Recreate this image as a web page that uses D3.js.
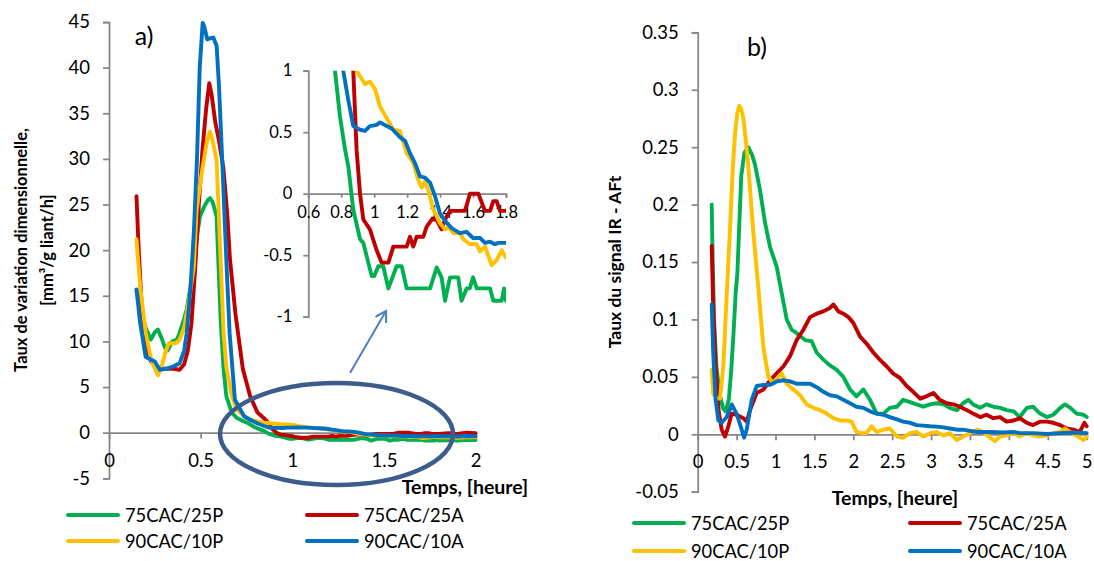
<!DOCTYPE html>
<html><head><meta charset="utf-8">
<script src="https://cdn.jsdelivr.net/npm/d3@7"></script>
<style>
html,body{margin:0;padding:0;background:#fff;}
svg{display:block;font-family:Lato,"Open Sans",sans-serif;}
</style></head>
<body>
<svg id="c" width="1094" height="561"></svg>
<script>
// ---------- DATA ----------
const seriesNames = ["75CAC/25P", "75CAC/25A", "90CAC/10P", "90CAC/10A"];
const seriesColors = ["#00B050", "#C00000", "#FFC000", "#0070C0"];

// Chart a) : time [h], rate [mm3/g liant/h]
const aGreen = [[0.15,15.5],[0.18,13],[0.2,11.5],[0.228,10.2],[0.25,11],[0.267,11.3],[0.29,10.2],[0.306,9.3],[0.32,9],[0.345,10],[0.37,10.2],[0.385,10.9],[0.41,12.5],[0.424,13.5],[0.445,16],[0.463,18.2],[0.48,21.5],[0.496,23.7],[0.52,24.8],[0.54,25.5],[0.551,25.7],[0.565,25.3],[0.587,23.7],[0.596,19],[0.61,12],[0.625,7],[0.64,4],[0.67,2.2],[0.698,1.6],[0.74,1.2],[0.762,1.0],[0.792,0.63],[0.823,0.36],[0.843,0.22],[0.873,-0.13],[0.914,-0.37],[0.934,-0.4],[0.985,-0.67],[1.0,-0.67],[1.025,-0.59],[1.055,-0.59],[1.086,-0.77],[1.136,-0.59],[1.167,-0.59],[1.197,-0.77],[1.339,-0.77],[1.379,-0.6],[1.409,-0.68],[1.43,-0.87],[1.46,-0.68],[1.51,-0.68],[1.53,-0.87],[1.561,-0.77],[1.58,-0.77],[1.6,-0.68],[1.622,-0.77],[1.703,-0.77],[1.723,-0.87],[1.774,-0.87],[1.788,-0.77],[1.8,-0.87],[1.85,-0.8],[1.9,-0.87],[1.95,-0.77],[2.0,-0.8]];
const aRed = [[0.15,25.9],[0.16,21],[0.175,15],[0.2,9.5],[0.23,7.8],[0.26,7.2],[0.3,7],[0.35,7],[0.385,6.9],[0.41,7.5],[0.43,9],[0.45,12],[0.47,18],[0.49,25],[0.51,31],[0.53,35.5],[0.547,38.3],[0.56,37],[0.58,34],[0.6,32],[0.624,29],[0.645,24],[0.66,19],[0.69,13],[0.73,7],[0.77,4],[0.81,2.2],[0.85,1.5],[0.873,1.0],[0.893,0.36],[0.914,0],[0.934,-0.21],[0.974,-0.29],[1.015,-0.46],[1.045,-0.56],[1.086,-0.56],[1.116,-0.43],[1.197,-0.43],[1.217,-0.35],[1.237,-0.43],[1.258,-0.35],[1.298,-0.35],[1.318,-0.27],[1.349,-0.21],[1.379,-0.21],[1.409,-0.29],[1.43,-0.21],[1.46,-0.14],[1.551,-0.14],[1.581,0],[1.632,0],[1.672,-0.14],[1.703,-0.14],[1.723,-0.06],[1.743,-0.06],[1.763,-0.14],[1.8,-0.14],[1.85,-0.06],[1.9,-0.14],[1.95,0],[2.0,-0.06]];
const aYellow = [[0.15,21.2],[0.17,16],[0.2,11],[0.23,8],[0.267,6.3],[0.29,7.5],[0.306,8.7],[0.326,9.8],[0.365,9.8],[0.385,10.2],[0.41,11.5],[0.44,15],[0.463,18.2],[0.478,24.4],[0.51,29],[0.535,32],[0.551,33],[0.565,32],[0.587,29.9],[0.609,19],[0.625,11],[0.64,7.2],[0.67,4],[0.698,2.5],[0.75,1.6],[0.8,1.25],[0.85,1.08],[0.893,1.0],[0.944,0.89],[0.974,0.91],[1.005,0.85],[1.035,0.71],[1.116,0.52],[1.156,0.51],[1.197,0.33],[1.237,0.25],[1.268,0.11],[1.288,0.05],[1.308,0.1],[1.328,0.03],[1.359,-0.13],[1.399,-0.24],[1.43,-0.29],[1.45,-0.27],[1.48,-0.32],[1.52,-0.32],[1.541,-0.37],[1.581,-0.41],[1.622,-0.41],[1.642,-0.47],[1.672,-0.43],[1.713,-0.58],[1.743,-0.54],[1.774,-0.46],[1.8,-0.52],[1.85,-0.5],[1.9,-0.55],[1.95,-0.5],[2.0,-0.52]];
const aBlue = [[0.15,15.7],[0.17,12],[0.2,8.3],[0.23,8],[0.25,7.8],[0.277,6.9],[0.31,7],[0.345,7.2],[0.385,7.6],[0.41,9],[0.424,10.9],[0.445,16],[0.463,22],[0.48,30],[0.495,40],[0.511,44.9],[0.52,44.5],[0.536,43.1],[0.55,43.2],[0.569,43.3],[0.587,42.4],[0.6,38],[0.619,29.2],[0.64,19],[0.658,10.9],[0.687,3.6],[0.737,1.8],[0.78,1.3],[0.812,1.0],[0.843,0.76],[0.873,0.55],[0.914,0.52],[0.944,0.51],[0.974,0.55],[1.015,0.56],[1.035,0.58],[1.076,0.55],[1.106,0.53],[1.156,0.46],[1.187,0.43],[1.217,0.33],[1.247,0.25],[1.278,0.14],[1.308,0.13],[1.339,0.09],[1.369,-0.02],[1.399,-0.16],[1.43,-0.22],[1.47,-0.28],[1.52,-0.32],[1.561,-0.31],[1.6,-0.36],[1.642,-0.36],[1.672,-0.4],[1.703,-0.39],[1.733,-0.41],[1.753,-0.4],[1.8,-0.4],[1.85,-0.38],[1.9,-0.42],[1.95,-0.36],[2.0,-0.4]];

// Chart b) : time [h], IR signal rate
const bGreen = [[0.18,0.2],[0.19,0.16],[0.21,0.1],[0.24,0.06],[0.28,0.035],[0.33,0.022],[0.36,0.02],[0.4,0.03],[0.43,0.055],[0.458,0.085],[0.49,0.125],[0.51,0.14],[0.53,0.175],[0.56,0.225],[0.6,0.245],[0.65,0.25],[0.7,0.243],[0.736,0.235],[0.8,0.213],[0.866,0.184],[0.93,0.163],[1.015,0.146],[1.08,0.123],[1.144,0.1],[1.208,0.091],[1.272,0.088],[1.38,0.082],[1.465,0.081],[1.53,0.071],[1.615,0.065],[1.7,0.06],[1.787,0.056],[1.872,0.05],[1.958,0.039],[2.04,0.033],[2.13,0.039],[2.215,0.03],[2.3,0.018],[2.386,0.018],[2.47,0.023],[2.56,0.024],[2.64,0.03],[2.73,0.028],[2.815,0.026],[2.9,0.024],[2.986,0.026],[3.07,0.027],[3.16,0.026],[3.24,0.023],[3.33,0.021],[3.41,0.027],[3.48,0.03],[3.54,0.026],[3.63,0.023],[3.71,0.026],[3.8,0.024],[3.886,0.023],[3.97,0.021],[4.06,0.02],[4.14,0.015],[4.23,0.023],[4.31,0.024],[4.4,0.018],[4.49,0.015],[4.57,0.017],[4.66,0.023],[4.72,0.026],[4.79,0.023],[4.87,0.018],[4.96,0.017],[5.0,0.015]];
const bRed = [[0.18,0.164],[0.2,0.11],[0.23,0.06],[0.27,0.02],[0.308,0.004],[0.351,-0.002],[0.394,0.007],[0.437,0.018],[0.5,0.017],[0.587,0.014],[0.63,0.011],[0.673,0.021],[0.758,0.036],[0.844,0.039],[0.93,0.047],[1.015,0.053],[1.101,0.059],[1.187,0.068],[1.272,0.082],[1.358,0.091],[1.444,0.102],[1.53,0.105],[1.615,0.107],[1.7,0.11],[1.744,0.113],[1.808,0.107],[1.872,0.105],[1.937,0.102],[2.0,0.097],[2.087,0.085],[2.17,0.079],[2.26,0.071],[2.34,0.065],[2.43,0.059],[2.51,0.053],[2.6,0.049],[2.686,0.042],[2.77,0.037],[2.86,0.031],[2.94,0.033],[3.03,0.036],[3.11,0.03],[3.2,0.027],[3.29,0.026],[3.37,0.024],[3.46,0.021],[3.54,0.018],[3.63,0.015],[3.71,0.017],[3.8,0.014],[3.886,0.015],[3.97,0.011],[4.06,0.012],[4.14,0.014],[4.23,0.01],[4.31,0.008],[4.4,0.011],[4.49,0.011],[4.57,0.01],[4.66,0.008],[4.74,0.005],[4.83,0.004],[4.91,0.002],[4.97,0.01],[5.0,0.007]];
const bYellow = [[0.18,0.056],[0.2,0.035],[0.25,0.031],[0.287,0.031],[0.33,0.06],[0.365,0.11],[0.394,0.15],[0.416,0.18],[0.45,0.23],[0.48,0.262],[0.51,0.28],[0.535,0.286],[0.56,0.283],[0.587,0.275],[0.62,0.255],[0.651,0.233],[0.716,0.175],[0.78,0.127],[0.844,0.076],[0.908,0.05],[0.973,0.044],[1.037,0.05],[1.08,0.053],[1.144,0.044],[1.23,0.039],[1.315,0.034],[1.4,0.026],[1.487,0.023],[1.572,0.021],[1.658,0.018],[1.744,0.014],[1.83,0.012],[1.915,0.012],[1.98,0.011],[2.04,0.002],[2.1,0.001],[2.17,0.001],[2.236,0.007],[2.3,0.002],[2.386,0.004],[2.47,0.005],[2.56,-0.002],[2.64,-0.003],[2.73,0.001],[2.815,0.002],[2.9,-0.002],[2.986,0.001],[3.07,0.002],[3.16,-0.001],[3.24,0.001],[3.33,-0.005],[3.41,-0.002],[3.5,0.001],[3.59,0.004],[3.67,0.002],[3.76,-0.003],[3.82,-0.006],[3.886,-0.002],[3.97,-0.001],[4.06,0.001],[4.14,-0.002],[4.23,0.001],[4.31,-0.001],[4.4,-0.002],[4.49,-0.001],[4.57,0.001],[4.66,0.002],[4.72,0.005],[4.81,0.001],[4.89,-0.002],[4.96,-0.005],[5.0,-0.002]];
const bBlue = [[0.18,0.113],[0.2,0.07],[0.23,0.03],[0.266,0.012],[0.308,0.01],[0.373,0.015],[0.437,0.026],[0.5,0.018],[0.566,0.004],[0.596,-0.003],[0.63,0.004],[0.694,0.03],[0.758,0.042],[0.844,0.043],[0.93,0.043],[1.015,0.046],[1.101,0.047],[1.187,0.046],[1.272,0.044],[1.358,0.044],[1.444,0.044],[1.53,0.041],[1.615,0.037],[1.7,0.034],[1.787,0.033],[1.872,0.03],[1.958,0.027],[2.04,0.024],[2.13,0.023],[2.215,0.02],[2.3,0.018],[2.386,0.017],[2.47,0.015],[2.56,0.013],[2.64,0.011],[2.73,0.01],[2.815,0.008],[2.9,0.0075],[2.986,0.007],[3.07,0.0067],[3.16,0.006],[3.24,0.005],[3.33,0.004],[3.41,0.004],[3.5,0.003],[3.59,0.002],[3.76,0.002],[3.93,0.0015],[4.06,0.002],[4.14,0.001],[4.31,0.001],[4.49,0.0003],[4.66,0.001],[4.83,0.0015],[5.0,0.001]];

const aTicksY = [-5,0,5,10,15,20,25,30,35,40,45];
const aTicksX = [0,0.5,1,1.5,2];
const insetTicksY = [-1,-0.5,0,0.5,1];
const insetTicksX = [0.6,0.8,1,1.2,1.4,1.6,1.8];
const bTicksY = [-0.05,0,0.05,0.1,0.15,0.2,0.25,0.3,0.35];
const bTicksX = [0,0.5,1,1.5,2,2.5,3,3.5,4,4.5,5];

const aSeries = [aGreen, aRed, aYellow, aBlue];
const bSeries = [bGreen, bRed, bYellow, bBlue];

// ---------- DRAW ----------
const svg = d3.select("#c");
const AXIS = "#868686";
const fmt = d => String(d);
const TICK_FS = 18.5;

function styleAxis(g, fs) {
  g.select(".domain").attr("stroke", AXIS).attr("stroke-width", 1.75);
  g.selectAll(".tick line").attr("stroke", AXIS).attr("stroke-width", 1.75);
  g.selectAll(".tick text").attr("fill", "#000").attr("font-size", fs).attr("font-family", "Lato");
}

function drawLines(g, data, x, y, w) {
  const line = d3.line().x(d => x(d[0])).y(d => y(d[1]));
  data.forEach((s, i) => {
    g.append("path").attr("d", line(s)).attr("fill", "none")
      .attr("stroke", seriesColors[i]).attr("stroke-width", w)
      .attr("stroke-linejoin", "round").attr("stroke-linecap", "round");
  });
}

// ---- Chart a ----
const xA = d3.scaleLinear().domain([0, 2]).range([109, 475.6]);
const yA = d3.scaleLinear().domain([-5, 45]).range([478.3, 22]);

const gAy = svg.append("g").attr("transform", `translate(${xA(0)},0)`)
  .call(d3.axisLeft(yA).tickValues(aTicksY).tickSize(6).tickPadding(13).tickFormat(fmt).tickSizeOuter(6));
styleAxis(gAy, TICK_FS);
const gAx = svg.append("g").attr("transform", `translate(0,${yA(0)})`)
  .call(d3.axisBottom(xA).tickValues(aTicksX).tickSize(6).tickPadding(15).tickFormat(fmt).tickSizeOuter(0));
styleAxis(gAx, TICK_FS);

drawLines(svg.append("g"), aSeries, xA, yA, 3.9);

// inset
const xI = d3.scaleLinear().domain([0.6, 1.8]).range([308.3, 506]);
const yI = d3.scaleLinear().domain([-1, 1]).range([316.7, 70.7]);
svg.append("defs").append("clipPath").attr("id", "clipI").append("rect")
  .attr("x", xI(0.6)).attr("y", yI(1)).attr("width", xI(1.8) - xI(0.6)).attr("height", yI(-1) - yI(1));
const gIy = svg.append("g").attr("transform", `translate(${xI(0.6)},0)`)
  .call(d3.axisLeft(yI).tickValues(insetTicksY).tickSize(5).tickPadding(11).tickFormat(fmt).tickSizeOuter(5));
styleAxis(gIy, 16.5);
const gIx = svg.append("g").attr("transform", `translate(0,${yI(0)})`)
  .call(d3.axisBottom(xI).tickValues(insetTicksX).tickSize(4).tickPadding(9).tickFormat(fmt).tickSizeOuter(4));
styleAxis(gIx, 16.5);
drawLines(svg.append("g").attr("clip-path", "url(#clipI)"), aSeries, xI, yI, 3.9);

// ellipse + arrow
svg.append("ellipse").attr("cx", 336.5).attr("cy", 434).attr("rx", 116.5).attr("ry", 51)
  .attr("fill", "none").attr("stroke", "#3C5C8C").attr("stroke-width", 4.5);
svg.append("defs").append("marker").attr("id", "arr").attr("viewBox", "0 0 12 12")
  .attr("refX", 10).attr("refY", 6).attr("markerWidth", 13).attr("markerHeight", 13)
  .attr("markerUnits", "userSpaceOnUse").attr("orient", "auto")
  .append("path").attr("d", "M0,0 L10,6 L0,12").attr("fill", "none").attr("stroke", "#4F81BD").attr("stroke-width", 2);
svg.append("line").attr("x1", 350).attr("y1", 373).attr("x2", 386).attr("y2", 311)
  .attr("stroke", "#4F81BD").attr("stroke-width", 2).attr("marker-end", "url(#arr)");

// titles a
svg.append("text").attr("x", 144).attr("y", 45).attr("text-anchor", "middle").attr("font-size", 25).text("a)");
const yt = svg.append("text").attr("transform", "translate(27,250) rotate(-90)")
  .attr("text-anchor", "middle").attr("font-weight", "bold").attr("font-size", 16.5);
yt.append("tspan").attr("x", 0).attr("y", 0).text("Taux de variation dimensionnelle,");
yt.append("tspan").attr("x", 0).attr("y", 26).text("[mm³/g liant/h]");
svg.append("text").attr("x", 465).attr("y", 494).attr("text-anchor", "middle")
  .attr("font-weight", "bold").attr("font-size", 19.5).text("Temps, [heure]");

// legends
const legA = [[66, 515], [305, 515], [66, 541], [305, 541]];
const legB = [[632, 523], [908, 523], [632, 551], [908, 551]];
function legend(pos) {
  seriesNames.forEach((n, i) => {
    const [lx, ly] = pos[i];
    svg.append("line").attr("x1", lx + 2).attr("x2", lx + 52).attr("y1", ly).attr("y2", ly)
      .attr("stroke", seriesColors[i]).attr("stroke-width", 4).attr("stroke-linecap", "round");
    svg.append("text").attr("x", lx + 59).attr("y", ly + 6.5).attr("font-size", 18.3).text(n);
  });
}
legend(legA);

// ---- Chart b ----
const xB = d3.scaleLinear().domain([0, 5]).range([697.7, 1086.7]);
const yB = d3.scaleLinear().domain([-0.05, 0.35]).range([491.7, 32.3]);
const gBy = svg.append("g").attr("transform", `translate(${xB(0)},0)`)
  .call(d3.axisLeft(yB).tickValues(bTicksY).tickSize(6).tickPadding(13).tickFormat(fmt).tickSizeOuter(6));
styleAxis(gBy, TICK_FS);
const gBx = svg.append("g").attr("transform", `translate(0,${yB(0)})`)
  .call(d3.axisBottom(xB).tickValues(bTicksX).tickSize(6).tickPadding(15).tickFormat(fmt).tickSizeOuter(0));
styleAxis(gBx, TICK_FS);
drawLines(svg.append("g"), bSeries, xB, yB, 3.9);

svg.append("text").attr("x", 757).attr("y", 56).attr("text-anchor", "middle").attr("font-size", 25).text("b)");
svg.append("text").attr("transform", "translate(621,262) rotate(-90)").attr("text-anchor", "middle")
  .attr("font-weight", "bold").attr("font-size", 17.5).text("Taux du signal IR - AFt");
svg.append("text").attr("x", 895).attr("y", 505).attr("text-anchor", "middle")
  .attr("font-weight", "bold").attr("font-size", 19.5).text("Temps, [heure]");
legend(legB);
</script>
</body></html>
